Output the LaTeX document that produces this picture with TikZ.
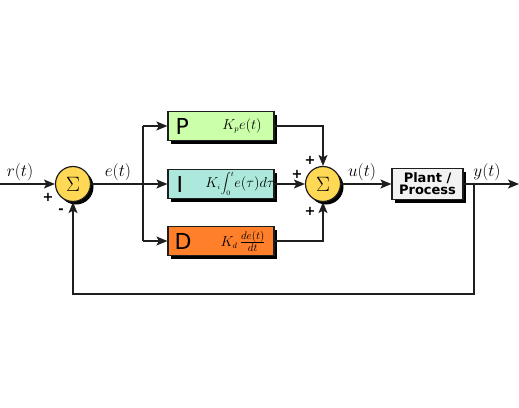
\documentclass[tikz,border=0pt]{standalone}
\usepackage{fontspec}
\usetikzlibrary{arrows.meta,shadows,calc}
\newfontfamily\dejavu{DejaVu Sans}
\definecolor{sumyellow}{RGB}{255,217,85}
\definecolor{pgreen}{RGB}{204,255,170}
\definecolor{icyan}{RGB}{172,233,220}
\definecolor{dorange}{RGB}{255,127,42}
\definecolor{plantgray}{RGB}{242,242,242}
\definecolor{linec}{RGB}{30,30,30}
\begin{document}
\begin{tikzpicture}[x=1pt,y=-1pt, line width=1.2pt, draw=linec,
  arr/.style={-{Stealth[length=11pt,width=9pt,inset=2.5pt]}},
  shad/.style={drop shadow={shadow xshift=3pt,shadow yshift=-3pt,fill=black,opacity=1}},
  sumnode/.style={circle,draw=linec,fill=sumyellow,minimum size=35pt,inner sep=0pt,shad,font=\fontsize{22}{26}\selectfont},
  ctrl/.style={rectangle,draw=linec,minimum width=106pt,minimum height=29pt,inner sep=0pt,shad},
  lbl/.style={font=\fontsize{17}{20}\selectfont,inner sep=0pt},
  sgn/.style={font=\dejavu\bfseries\fontsize{13}{13}\selectfont,inner sep=0pt},
  letter/.style={font=\dejavu\fontsize{22}{22}\selectfont,anchor=west,inner sep=0pt},
  form/.style={font=\fontsize{15.5}{17}\selectfont,inner sep=0pt},
  plantbox/.style={rectangle,draw=linec,fill=plantgray,shad,minimum width=71pt,minimum height=31pt,inner sep=0pt,align=center,font=\dejavu\bfseries\fontsize{13}{12}\selectfont}
]
\useasboundingbox (0,0) rectangle (519,407);

% nodes
\coordinate (in) at (0,184);
\node[sumnode] (s1) at (73,184) {$\Sigma$};
\coordinate (br) at (143,184);
\node[ctrl,fill=pgreen] (P) at (221,126) {};
\node[ctrl,fill=icyan] (I) at (221,184) {};
\node[ctrl,fill=dorange] (D) at (221,241) {};
\node[sumnode] (s2) at (323,184) {$\Sigma$};
\node[plantbox] (plant) at (427.5,184) {Plant /\\Process};
\coordinate (out) at (519,184);
\coordinate (fb) at (474,184);
\coordinate (fbc) at (73,294);

% box contents
\node[letter] (Pl) at (175,126) {P};
\node[letter] (Il) at (176,184) {I};
\node[letter] (Dl) at (174,241) {D};
\node[form] (Pf) at (242,126) {$K_{\scriptscriptstyle p}e(t)$};
\node[form,font=\fontsize{14}{16}\selectfont] (If) at (240,184) {$K_{\scriptscriptstyle i}\!\displaystyle\int_{\scriptscriptstyle 0}^{\scriptscriptstyle t}\! e(\tau)d\tau$};
\node[form] (Df) at (243,241) {$K_{\scriptscriptstyle d}\,\frac{de(t)}{dt}$};

% connectors
\draw[arr] (in) -- (s1);
\draw (s1) -- (br);
\draw (br |- P.west) -- (br |- D.west);
\draw[arr] (br |- P.west) -- (P.west);
\draw[arr] (br) -- (I.west);
\draw[arr] (br |- D.west) -- (D.west);
\draw[arr] (P.east) -| (s2.north);
\draw[arr] (I.east) -- (s2.west);
\draw[arr] (D.east) -| (s2.south);
\draw[arr] (s2.east) -- (plant.west);
\draw[arr] (plant.east) -- (out);
\draw[arr] (fb) |- (fbc) -- (s1.south);

% labels
\node[lbl] (rl) at (20,172) {$r(t)$};
\node[lbl] (el) at (118,172) {$e(t)$};
\node[lbl] (ul) at (362,172) {$u(t)$};
\node[lbl] (yl) at (487,172) {$y(t)$};
\node[sgn] (s1p) at (48,197) {+};
\node[sgn] (s1m) at (61,211) {-};
\node[sgn] (s2a) at (310,160) {+};
\node[sgn] (s2b) at (297,174) {+};
\node[sgn] (s2c) at (310,211) {+};
\end{tikzpicture}
\end{document}
